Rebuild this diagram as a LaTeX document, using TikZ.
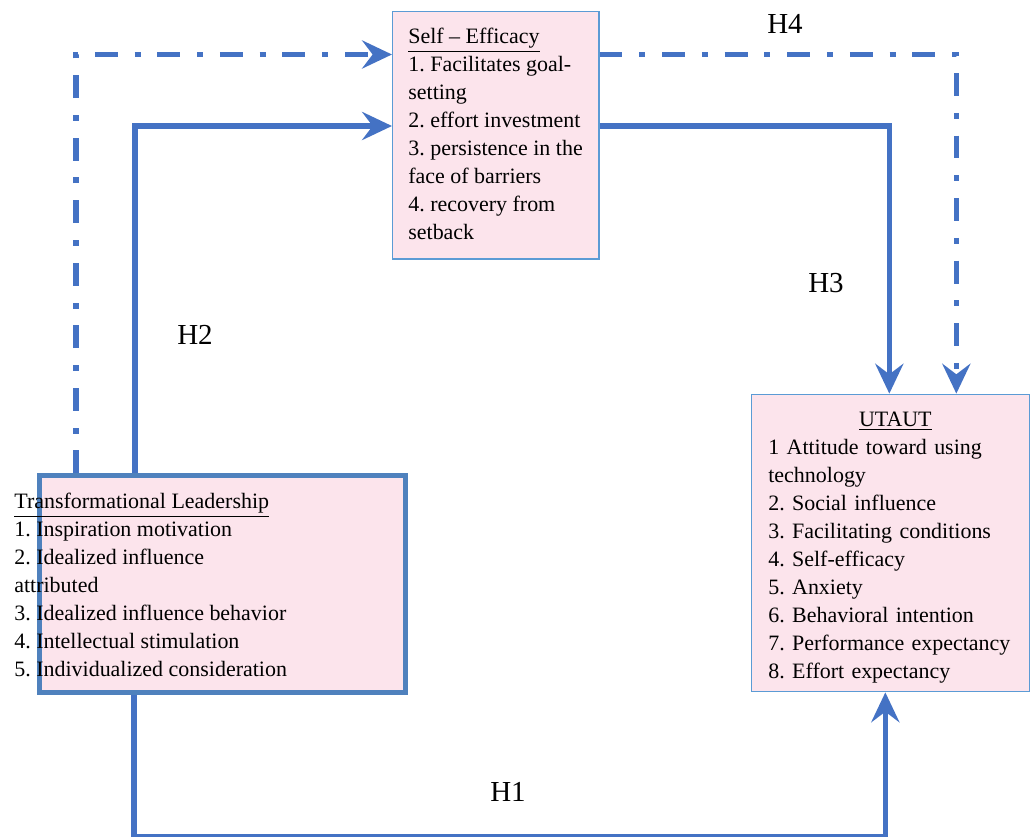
\documentclass[tikz,border=0pt]{standalone}
\usepackage{fontspec}
\setmainfont{Liberation Serif}
\usetikzlibrary{arrows.meta,calc}

\definecolor{lineblue}{RGB}{68,114,196}
\definecolor{edgeblue}{RGB}{91,155,213}
\definecolor{tlblue}{RGB}{79,129,189}
\definecolor{boxpink}{RGB}{252,228,236}

\frenchspacing

\begin{document}
\begin{tikzpicture}[x=0.02cm,y=-0.02cm]
\tikzstyle{box}=[rectangle, draw=edgeblue, line width=0.8pt, fill=boxpink, inner sep=0pt]
\tikzstyle{txt}=[anchor=north west, align=left, inner sep=0pt, font=\fontsize{12.5}{15.9}\selectfont]
\tikzstyle{hyp}=[font=\fontsize{16.5}{19}\selectfont]
\tikzstyle{flow}=[draw=lineblue, line width=3.1pt, -{Stealth[length=17pt, width=16pt, inset=6pt]}]
\tikzstyle{flowdd}=[flow, dash pattern=on 13pt off 9.6pt on 3.4pt off 9.6pt]

\useasboundingbox (0,0) rectangle (1030,837);

\node[box, minimum width=4.126cm, minimum height=4.95cm] (se) at (495.8,135.3) {};
\node[box, minimum width=5.556cm, minimum height=5.948cm] (ut) at (890.6,543) {};
\node[box, draw=tlblue, line width=2.5pt, minimum width=7.32cm, minimum height=4.34cm] (tl) at (222.5,584) {};

\node[txt] (setext) at (408,28) {\underline{Self \textendash\ Efficacy}\\1. Facilitates goal-\\setting\\2. effort investment\\3. persistence in the\\face of barriers\\4. recovery from\\setback};
\node[txt, text width=5.08cm] (uttext) at (768,412) {\makebox[\linewidth]{\underline{UTAUT}}\\1 Attitude toward using\\technology\\2. Social influence\\3. Facilitating conditions\\4. Self-efficacy\\5. Anxiety\\6. Behavioral intention\\7. Performance expectancy\\8. Effort expectancy};
\node[txt] (tltext) at (14,493) {\underline{Transformational Leadership}\\1. Inspiration motivation\\2. Idealized influence\\attributed\\3. Idealized influence behavior\\4. Intellectual stimulation\\5. Individualized consideration};

\node[hyp] (h1) at (508,792) {H1};
\node[hyp] (h2) at (195,335) {H2};
\node[hyp] (h3) at (826,283) {H3};
\node[hyp] (h4) at (785,24) {H4};

\draw[flow] ($(tl.south west)+(96.5,0)$) -- ++(0,142) -| ($(ut.south west)+(134.3,0)$);
\draw[flow] ($(tl.north west)+(97.5,0)$) |- ($(se.west)+(0,-9.3)$);
\draw[flowdd] ($(tl.north west)+(38.5,0)$) |- ($(se.west)+(0,-80.8)$);
\draw[flow] ($(se.east)+(0,-9.3)$) -| ($(ut.north west)+(138.3,0)$);
\draw[flowdd] ($(se.east)+(0,-80.8)$) -| ($(ut.north west)+(205.3,0)$);

\end{tikzpicture}
\end{document}
